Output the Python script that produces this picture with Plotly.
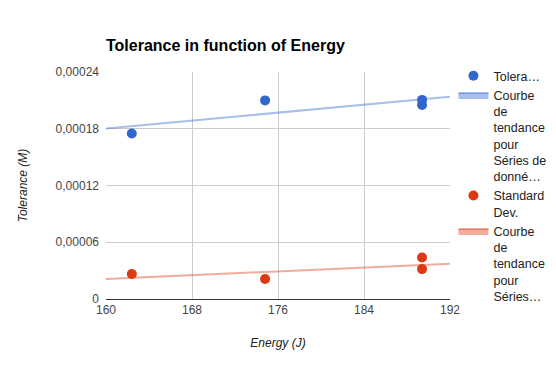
import numpy as np
import plotly.graph_objects as go

# ---- data ----
energy = [162.4, 174.8, 189.4, 189.4]
tolerance = [0.000175, 0.000210, 0.0002105, 0.0002052]
std_dev = [0.0000264, 0.0000211, 0.0000439, 0.0000316]

x_range = [160, 192]
x_ticks = [160, 168, 176, 184, 192]
y_ticks = [0, 0.00006, 0.00012, 0.00018, 0.00024]
y_tick_labels = ["0", "0,00006", "0,00012", "0,00018", "0,00024"]

name_tol = "Tolera…"
name_tol_trend = "Courbe<br>de<br>tendance<br>pour<br>Séries de<br>donné…"
name_std = "Standard<br>Dev."
name_std_trend = "Courbe<br>de<br>tendance<br>pour<br>Séries…"

FONT = "Liberation Sans, Arial, sans-serif"
BLUE = "#3366cc"
RED = "#dc3912"
BLUE_T = "rgba(51,102,204,0.42)"
RED_T = "rgba(220,57,18,0.42)"

# linear trendlines fitted to the data
tol_fit = np.polyfit(energy, tolerance, 1)
std_fit = np.polyfit(energy, std_dev, 1)
tol_trend = list(np.polyval(tol_fit, x_range))
std_trend = list(np.polyval(std_fit, x_range))

fig = go.Figure()

fig.add_trace(go.Scatter(x=x_range, y=tol_trend, mode="lines", name=name_tol_trend,
                         line=dict(color=BLUE_T, width=2), fill="toself", fillcolor=BLUE_T,
                         legendrank=2, hoverinfo="skip"))
fig.add_trace(go.Scatter(x=x_range, y=std_trend, mode="lines", name=name_std_trend,
                         line=dict(color=RED_T, width=2), fill="toself", fillcolor=RED_T,
                         legendrank=4, hoverinfo="skip"))
fig.add_trace(go.Scatter(x=energy, y=tolerance, mode="markers", name=name_tol,
                         marker=dict(color=BLUE, size=10), legendrank=1))
fig.add_trace(go.Scatter(x=energy, y=std_dev, mode="markers", name=name_std,
                         marker=dict(color=RED, size=10), legendrank=3))

fig.update_layout(
    width=556, height=371,
    margin=dict(l=106, r=106, t=72, b=72, autoexpand=False),
    paper_bgcolor="white", plot_bgcolor="white",
    font=dict(family=FONT, size=12, color="#222222"),
    title=dict(text="<b>Tolerance in function of Energy</b>", x=106/556, xanchor="left",
               y=1 - 45/371, yanchor="middle", font=dict(family=FONT, size=16, color="#000000")),
    showlegend=True,
    legend=dict(x=1.01, xanchor="left", y=1.048, yanchor="top", valign="top",
                maxheight=371,
                font=dict(family=FONT, size=12.5, color="#222222"),
                bgcolor="rgba(0,0,0,0)", tracegroupgap=0),
    xaxis=dict(range=x_range, tickvals=x_ticks, showgrid=True, gridcolor="#cccccc",
               showline=True, linecolor="#333333", linewidth=1, zeroline=False,
               ticks="", tickfont=dict(size=12, color="#444444"), automargin=False,
               title=dict(text="<i>Energy (J)</i>", font=dict(size=12, color="#222222"), standoff=22)),
    yaxis=dict(range=[0, 0.00024], tickvals=y_ticks, ticktext=y_tick_labels, showgrid=True,
               gridcolor="#cccccc", showline=False, zeroline=False, ticks="",
               tickfont=dict(size=12, color="#444444"), automargin=False, ticklabelstandoff=6,
               title=dict(text="<i>Tolerance (M)</i>", font=dict(size=12, color="#222222"), standoff=25)),
)

fig.write_html("out.html", config={"displayModeBar": False},
               post_script="document.body.style.margin='0';")
